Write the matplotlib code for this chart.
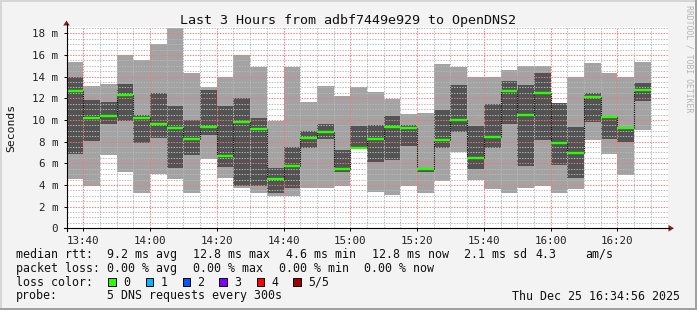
import matplotlib
matplotlib.use("Agg")
import matplotlib.pyplot as plt
from matplotlib.lines import Line2D
from matplotlib.patches import Polygon, Rectangle
from matplotlib.ticker import MultipleLocator, FixedLocator, FuncFormatter

plt.rcParams['font.family'] = 'DejaVu Sans Mono'

# start of each 5 minute bin
times = ["13:35", "13:40", "13:45", "13:50", "13:55",
         "14:00", "14:05", "14:10", "14:15", "14:20", "14:25",
         "14:30", "14:35", "14:40", "14:45", "14:50", "14:55",
         "15:00", "15:05", "15:10", "15:15", "15:20", "15:25",
         "15:30", "15:35", "15:40", "15:45", "15:50", "15:55",
         "16:00", "16:05", "16:10", "16:15", "16:20", "16:25"]

# rtt in ms: outer smoke (min/max), inner smoke and median
rtt_max = [15.38, 13.17, 13.35, 16.0, 15.54, 17.0, 18.49, 14.34, 13.05, 13.97,
           15.97, 14.89, 9.91, 14.89, 11.66, 13.14, 12.22, 13.05, 12.58, 11.97,
           10.55, 10.65, 15.17, 14.89, 13.97, 13.97, 14.62, 14.95, 14.95, 11.57,
           13.97, 15.26, 14.34, 13.97, 15.35]
inner_hi = [14.0, 11.88, 11.66, 13.35, 10.49, 12.5, 11.29, 10.0, 12.77, 11.29,
            12.03, 10.18, 5.54, 7.5, 8.98, 9.63, 7.23, 9.45, 9.54, 10.37,
            9.54, 5.55, 10.92, 13.23, 9.45, 11.48, 13.6, 13.23, 14.31, 11.57,
            9.35, 12.46, 10.35, 9.35, 13.42]
median = [12.65, 10.2, 10.4, 12.34, 10.2, 9.66, 9.29, 8.25, 9.38, 6.65,
          9.85, 9.2, 4.55, 5.78, 8.34, 8.92, 5.48, 7.45, 8.25, 9.35,
          9.29, 5.45, 8.18, 9.97, 6.52, 8.43, 12.68, 10.49, 12.46, 7.85,
          6.98, 12.15, 10.25, 9.29, 12.74]
inner_lo = [6.9, 8.06, 9.66, 9.94, 7.9, 8.37, 5.57, 6.77, 8.62, 5.66,
            3.94, 3.94, 3.29, 3.69, 7.45, 8.28, 5.23, 7.3, 6.12, 6.31,
            7.63, 5.23, 7.45, 8.92, 5.48, 7.45, 9.66, 5.78, 8.15, 5.85,
            4.68, 9.85, 8.28, 8.0, 11.75]
rtt_min = [4.55, 3.94, 6.8, 5.23, 3.29, 5.0, 4.55, 3.29, 6.4, 4.65,
           3.69, 3.29, 2.98, 2.98, 3.69, 3.69, 3.94, 7.3, 3.38, 3.08,
           3.94, 3.29, 4.4, 7.08, 4.46, 3.63, 3.29, 3.69, 3.94, 3.29,
           3.63, 8.15, 6.86, 4.92, 9.08]

x_labels = ["13:40", "14:00", "14:20", "14:40", "15:00",
            "15:20", "15:40", "16:00", "16:20"]

loss_labels = ["0", "1", "2", "3", "4", "5/5"]
loss_colors = ["#26ff00", "#00b8ff", "#0059ff", "#7e00ff", "#ff0000", "#a10000"]

W, H = 697, 310


def to_min(t):
    h, m = t.split(":")
    return int(h) * 60 + int(m)


def fx(px):
    return px / W


def fy(py):
    return 1 - py / H


x = [to_min(t) for t in times]
step = 5

fig = plt.figure(figsize=(W / 100, H / 100), dpi=100, facecolor="#f3f3f3")
ax = fig.add_axes([fx(66.5), fy(228.3), 601 / W, 201 / H])
ax.set_facecolor("white")
ax.set_xlim(to_min("13:35"), to_min("16:35"))
ax.set_ylim(0, 18.55)

# smoke
ax.bar(x, [a - b for a, b in zip(rtt_max, rtt_min)], bottom=rtt_min, width=step,
       align="edge", color="#a3a3a3", lw=0, zorder=1)
ax.bar(x, [a - b for a, b in zip(inner_hi, inner_lo)], bottom=inner_lo, width=step,
       align="edge", color="#535353", lw=0, zorder=1.2)

# median
ax.vlines(x[1:], median[:-1], median[1:], colors="black",
          linestyles=(0, (1, 1)), lw=0.8, zorder=3)
ax.hlines(median, x, [v + step for v in x], colors=loss_colors[0], lw=1.7, zorder=4)

# grid
ax.set_axisbelow(False)
ax.xaxis.set_major_locator(FixedLocator([to_min(t) for t in x_labels]))
ax.set_xticklabels(x_labels)
ax.xaxis.set_minor_locator(MultipleLocator(5))
ax.yaxis.set_major_locator(MultipleLocator(2))
ax.yaxis.set_minor_locator(MultipleLocator(0.5))
ax.yaxis.set_major_formatter(FuncFormatter(lambda v, p: "0" if v == 0 else "%d m" % v))
ax.grid(which="minor", color=(0.72, 0.72, 0.72, 0.45), ls=(0, (1.4, 1.4)), lw=0.7)
ax.grid(which="major", color=(1.0, 0.45, 0.45, 0.5), ls=(0, (1.4, 1.4)), lw=0.7)
ax.tick_params(which="major", length=2.5, width=0.7, color="black",
               labelsize=7.8, labelcolor="#222222")
ax.tick_params(axis="x", which="major", pad=3.2)
ax.tick_params(axis="y", which="major", pad=3.5)
ax.tick_params(which="minor", length=0)
for s in ax.spines.values():
    s.set_visible(False)

# axis lines with arrows
fig.add_artist(Line2D([fx(66.5), fx(66.5)], [fy(230.5), fy(24)], color="black", lw=0.8))
fig.add_artist(Line2D([fx(63.5), fx(669)], [fy(228.3), fy(228.3)], color="black", lw=0.8))
fig.add_artist(Polygon([(fx(63.2), fy(25.5)), (fx(69.8), fy(25.5)), (fx(66.5), fy(20.5))],
                       closed=True, transform=fig.transFigure, color="#8b1a1a", lw=0))
fig.add_artist(Polygon([(fx(668.5), fy(225)), (fx(668.5), fy(231.6)), (fx(674), fy(228.3))],
                       closed=True, transform=fig.transFigure, color="#8b1a1a", lw=0))

# frame
fig.add_artist(Rectangle((0, fy(2)), 1, 2 / H, transform=fig.transFigure, color="#d6d6d6", lw=0))
fig.add_artist(Rectangle((0, 0), 2 / W, 1, transform=fig.transFigure, color="#d6d6d6", lw=0))
fig.add_artist(Rectangle((0, 0), 1, 2 / H, transform=fig.transFigure, color="#a0a0a0", lw=0))
fig.add_artist(Rectangle((fx(695), 0), 2 / W, 1, transform=fig.transFigure, color="#a0a0a0", lw=0))

# texts
fig.text(fx(347.5), fy(24), "Last 3 Hours from adbf7449e929 to OpenDNS2",
         ha="center", va="baseline", fontsize=9.6, color="#111111")
fig.text(fx(11.5), fy(128), "Seconds", rotation=90, ha="center", va="center",
         fontsize=8.2, color="#111111")
fig.text(fx(688.5), fy(5), "RRDTOOL / TOBI OETIKER", rotation=270, ha="center",
         va="top", fontsize=5.9, color="#b4b4b4")

fs = 8.4
rows = [
    (257.7, [(16, "median rtt:"), (107.3, "9.2 ms avg"), (193.3, "12.8 ms max"),
             (286, "4.6 ms min"), (372.3, "12.8 ms now"), (464, "2.1 ms sd"),
             (536, "4.3"), (585.7, "am/s")]),
    (271.7, [(16, "packet loss:"), (107.3, "0.00 % avg"), (193.3, "0.00 % max"),
             (279.3, "0.00 % min"), (365, "0.00 % now")]),
    (285.7, [(16, "loss color:")]),
    (299.5, [(16, "probe:"), (107.3, "5 DNS requests every 300s"),
             (512.2, "Thu Dec 25 16:34:56 2025")]),
]
for yb, items in rows:
    for xp, s in items:
        fig.text(fx(xp - 0.5), fy(yb), s, ha="left", va="baseline",
                 fontsize=fs, color="#111111")

box_x = [108.3, 145.7, 182.7, 219.3, 256.7, 293.3]
for bx, lab, c in zip(box_x, loss_labels, loss_colors):
    fig.add_artist(Rectangle((fx(bx), fy(286)), 7.4 / W, 7.6 / H,
                             transform=fig.transFigure, facecolor=c,
                             edgecolor="black", lw=0.7))
    fig.text(fx(bx + 14.5), fy(285.7), lab, ha="left", va="baseline",
             fontsize=fs, color="#111111")

fig.savefig("out.png", dpi=100, facecolor=fig.get_facecolor())
